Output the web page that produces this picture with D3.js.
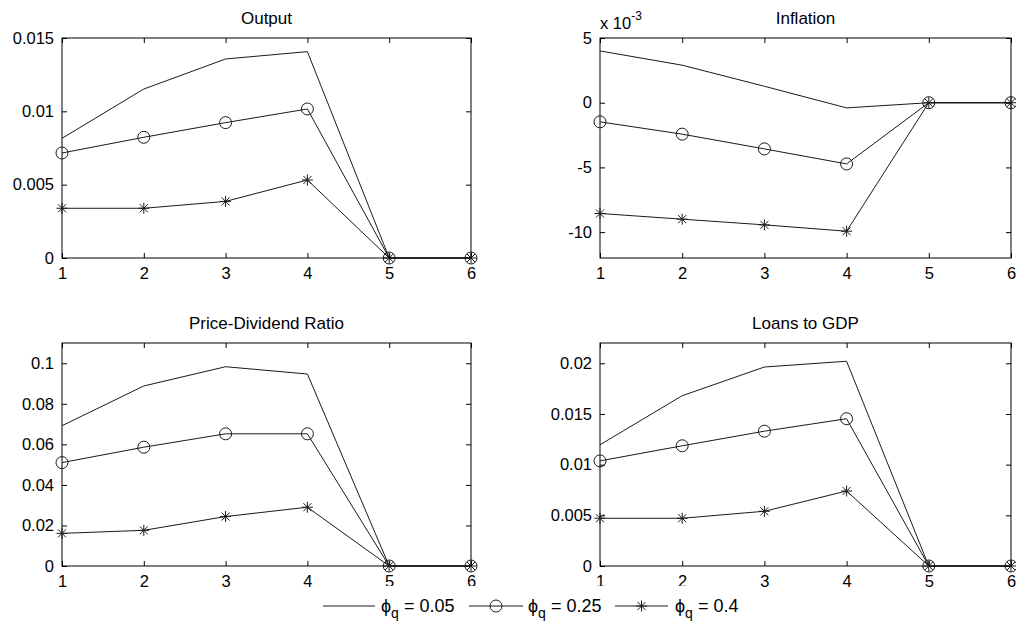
<!DOCTYPE html>
<html>
<head>
<meta charset="utf-8">
<script src="https://cdn.jsdelivr.net/npm/d3@7/dist/d3.min.js"></script>
<style>
  html, body { margin: 0; padding: 0; background: #fff; }
  svg { display: block; font-family: "Liberation Sans", Arial, Helvetica, sans-serif; }
</style>
</head>
<body>
<svg id="chart" width="1016" height="625"></svg>
<script>
// Impulse responses over six periods for three values of phi_q
const periods = [1, 2, 3, 4, 5, 6];
const seriesNames = ["0.05", "0.25", "0.4"];
const seriesMarkers = ["none", "circle", "star"];

const outputLow  = [0.00816, 0.01152, 0.01357, 0.01407, 0, 0];
const outputMid  = [0.00716, 0.00823, 0.00923, 0.01016, 0, 0];
const outputHigh = [0.00339, 0.00339, 0.00386, 0.00532, 0, 0];

const inflationLow  = [0.0040, 0.0029, 0.00127, -0.0004, 0, 0];
const inflationMid  = [-0.00148, -0.00243, -0.00357, -0.00473, 0, 0];
const inflationHigh = [-0.00856, -0.0090, -0.00944, -0.00993, 0, 0];

const pdLow  = [0.0692, 0.0888, 0.0983, 0.0947, 0, 0];
const pdMid  = [0.0510, 0.0586, 0.0652, 0.0652, 0, 0];
const pdHigh = [0.0161, 0.0176, 0.0244, 0.0290, 0, 0];

const loansLow  = [0.01196, 0.0168, 0.01963, 0.0202, 0, 0];
const loansMid  = [0.01037, 0.01186, 0.0133, 0.01453, 0, 0];
const loansHigh = [0.00471, 0.00471, 0.0054, 0.0074, 0, 0];

const outputTicks = [0, 0.005, 0.01, 0.015];
const outputTickLabels = ["0", "0.005", "0.01", "0.015"];
const inflationTicks = [-0.01, -0.005, 0, 0.005];
const inflationTickLabels = ["-10", "-5", "0", "5"];
const pdTicks = [0, 0.02, 0.04, 0.06, 0.08, 0.1];
const pdTickLabels = ["0", "0.02", "0.04", "0.06", "0.08", "0.1"];
const loansTicks = [0, 0.005, 0.01, 0.015, 0.02];
const loansTickLabels = ["0", "0.005", "0.01", "0.015", "0.02"];

const panels = [
  { title: "Output", box: [62, 38, 471, 258], yDomain: [0, 0.015],
    ticks: outputTicks, tickLabels: outputTickLabels, series: [outputLow, outputMid, outputHigh] },
  { title: "Inflation", box: [600, 38, 1011, 258], yDomain: [-0.012, 0.005],
    ticks: inflationTicks, tickLabels: inflationTickLabels, series: [inflationLow, inflationMid, inflationHigh],
    exponent: "-3" },
  { title: "Price-Dividend Ratio", box: [62, 343, 471, 566], yDomain: [0, 0.11],
    ticks: pdTicks, tickLabels: pdTickLabels, series: [pdLow, pdMid, pdHigh] },
  { title: "Loans to GDP", box: [600, 343, 1011, 566], yDomain: [0, 0.022],
    ticks: loansTicks, tickLabels: loansTickLabels, series: [loansLow, loansMid, loansHigh] }
];

const svg = d3.select("#chart");
const FONT = 16.5;
const TITLE_FONT = 17;
const LEGEND_FONT = 18;
const TICK = 5;
const INK = "#000";
const LINE = "#1a1a1a";

function drawMarker(g, kind, x, y) {
  if (kind === "circle") {
    g.append("circle").attr("cx", x).attr("cy", y).attr("r", 6)
      .attr("fill", "none").attr("stroke", LINE).attr("stroke-width", 1);
  } else if (kind === "star") {
    const a = 5.5, d = 4;
    const segs = [[0, -a, 0, a], [-a, 0, a, 0], [-d, -d, d, d], [-d, d, d, -d]];
    segs.forEach(s => g.append("line")
      .attr("x1", x + s[0]).attr("y1", y + s[1]).attr("x2", x + s[2]).attr("y2", y + s[3])
      .attr("stroke", LINE).attr("stroke-width", 1));
  }
}

panels.forEach(p => {
  const [x0, y0, x1, y1] = p.box;
  const x = d3.scaleLinear().domain([1, 6]).range([x0, x1]);
  const y = d3.scaleLinear().domain(p.yDomain).range([y1, y0]);
  const g = svg.append("g");

  // frame
  g.append("rect").attr("x", x0).attr("y", y0).attr("width", x1 - x0).attr("height", y1 - y0)
    .attr("fill", "#fff").attr("stroke", INK).attr("stroke-width", 1);

  const labelMap = new Map(p.ticks.map((t, i) => [t, p.tickLabels[i]]));

  // bottom axis with labels, ticks pointing inward
  const xb = g.append("g").attr("transform", `translate(0,${y1})`)
    .call(d3.axisBottom(x).tickValues(periods).tickFormat(d3.format("d"))
      .tickSizeInner(-TICK).tickSizeOuter(0).tickPadding(6));
  // top mirrored ticks
  const xt = g.append("g").attr("transform", `translate(0,${y0})`)
    .call(d3.axisTop(x).tickValues(periods).tickFormat("").tickSizeInner(-TICK).tickSizeOuter(0));
  // left axis with labels
  const yl = g.append("g").attr("transform", `translate(${x0},0)`)
    .call(d3.axisLeft(y).tickValues(p.ticks).tickFormat(t => labelMap.get(t))
      .tickSizeInner(-TICK).tickSizeOuter(0).tickPadding(8));
  // right mirrored ticks
  const yr = g.append("g").attr("transform", `translate(${x1},0)`)
    .call(d3.axisRight(y).tickValues(p.ticks).tickFormat("").tickSizeInner(-TICK).tickSizeOuter(0));

  [xb, xt, yl, yr].forEach(a => {
    a.select(".domain").remove();
    a.selectAll(".tick line").attr("stroke", INK);
    a.selectAll("text").attr("fill", INK).style("font-size", FONT + "px")
      .style("font-family", '"Liberation Sans", Arial, sans-serif');
  });
  xb.selectAll("text").attr("dy", "0.92em");

  // title
  g.append("text").attr("x", (x0 + x1) / 2).attr("y", y0 - 14)
    .attr("text-anchor", "middle").attr("fill", INK).style("font-size", TITLE_FONT + "px")
    .text(p.title);

  if (p.exponent) {
    const t = g.append("text").attr("x", x0).attr("y", y0 - 9).attr("fill", INK)
      .style("font-size", FONT + "px");
    t.append("tspan").text("x 10");
    t.append("tspan").attr("dy", -9).style("font-size", "12px").text(p.exponent);
  }

  // series lines and markers
  const line = d3.line().x((d, i) => x(periods[i])).y(d => y(d));
  p.series.forEach((vals, si) => {
    g.append("path").datum(vals).attr("d", line)
      .attr("fill", "none").attr("stroke", LINE).attr("stroke-width", 1);
    const mk = g.append("g");
    vals.forEach((v, i) => drawMarker(mk, seriesMarkers[si], x(periods[i]), y(v)));
  });
});

// legend along the bottom
const legend = svg.append("g");
legend.append("rect").attr("x", 318).attr("y", 586).attr("width", 428).attr("height", 39).attr("fill", "#fff");
const legendY = 606;
const legendItems = [
  { x1: 323, x2: 375, tx: 381 },
  { x1: 469, x2: 523, tx: 528 },
  { x1: 615, x2: 668, tx: 675 }
];
legendItems.forEach((it, i) => {
  legend.append("line").attr("x1", it.x1).attr("x2", it.x2).attr("y1", legendY).attr("y2", legendY)
    .attr("stroke", LINE).attr("stroke-width", 1);
  drawMarker(legend, seriesMarkers[i], (it.x1 + it.x2) / 2, legendY);
  const t = legend.append("text").attr("x", it.tx).attr("y", legendY + 6).attr("fill", INK)
    .style("font-size", LEGEND_FONT + "px");
  t.append("tspan").text("\u03d5");
  t.append("tspan").attr("dy", 6).style("font-size", "14px").text("q");
  t.append("tspan").attr("dy", -6).text(" = " + seriesNames[i]);
});
</script>
</body>
</html>
